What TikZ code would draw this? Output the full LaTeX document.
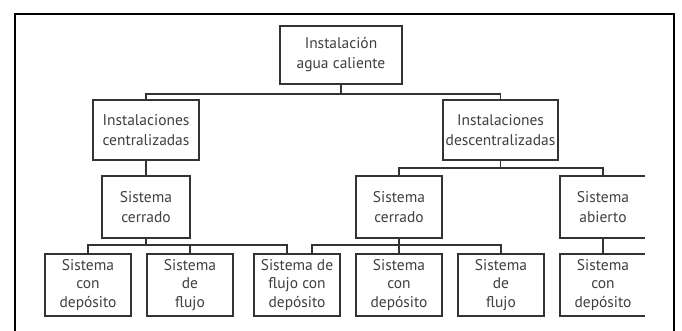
\documentclass[tikz,border=0pt]{standalone}
\usepackage{fontspec}
\setmainfont{PT Sans}
\usetikzlibrary{calc}
\definecolor{boxline}{HTML}{333333}
\definecolor{boxtext}{HTML}{404040}
\begin{document}
\begin{tikzpicture}[x=0.75pt,y=-0.75pt,
  box/.style={rectangle, draw=boxline, line width=1.4pt*0.75, text=boxtext,
    inner sep=0pt, align=center, font=\fontsize{11.6}{15}\selectfont},
  tall/.style={font=\fontsize{11.6}{13.7}\selectfont},
  openbox/.style={box, draw=none, outer sep=0pt},
  link/.style={draw=boxline, line width=1.4pt*0.75},
  frameline/.style={draw=black, line width=2.6pt*0.75}]
\useasboundingbox (0,0) rectangle (682,331);
\fill[white] (0,0) rectangle (682,331);
\draw[frameline] (15,332) -- (15,14) -- (674,14) -- (674,332);

\node[box, minimum width=122*0.75pt, minimum height=58*0.75pt] (top) at (341,55) {Instalación\\agua caliente};
\node[box, minimum width=106*0.75pt, minimum height=60*0.75pt] (l2l) at (146,130) {Instalaciones\\centralizadas};
\node[box, minimum width=115*0.75pt, minimum height=60*0.75pt] (l2r) at (500.5,130) {Instalaciones\\descentralizadas};

\node[box, minimum width=88*0.75pt, minimum height=62*0.75pt] (l3l) at (146,207) {Sistema\\cerrado};
\node[box, minimum width=86*0.75pt, minimum height=62*0.75pt] (l3r) at (399,207) {Sistema\\cerrado};
\node[openbox, minimum width=86*0.75pt, minimum height=62*0.75pt] (l3a) at (603,207) {Sistema\\abierto};

\node[box, tall, minimum width=86*0.75pt, minimum height=62*0.75pt] (a1) at (88,285) {Sistema\\con\\depósito};
\node[box, tall, minimum width=86*0.75pt, minimum height=62*0.75pt] (a2) at (190,285) {Sistema\\de\\flujo};
\node[box, tall, minimum width=86*0.75pt, minimum height=62*0.75pt] (a3) at (297,285) {Sistema de\\flujo con\\depósito};
\node[box, tall, minimum width=86*0.75pt, minimum height=62*0.75pt] (b1) at (399,285) {Sistema\\con\\depósito};
\node[box, tall, minimum width=86*0.75pt, minimum height=62*0.75pt] (b2) at (501,285) {Sistema\\de\\flujo};
\node[openbox, tall, minimum width=86*0.75pt, minimum height=62*0.75pt] (c1) at (603,285) {Sistema\\con\\depósito};

% right-hand boxes cut off at the right (three sides)
\draw[link] ([xshift=-1pt]l3a.north east) -- (l3a.north west) -- (l3a.south west) -- ([xshift=-1pt]l3a.south east);
\draw[link] ([xshift=-1pt]c1.north east) -- (c1.north west) -- (c1.south west) -- ([xshift=-1pt]c1.south east);

\coordinate (bar1) at (0,94);
\coordinate (bar2) at (0,168);
\coordinate (bar3) at (0,245);
\coordinate (a3l) at ($(a3.north)+(-10,0)$);
\coordinate (a3r) at ($(a3.north)+(15,0)$);

\draw[link] (top.south) -- (top.south |- bar1);
\draw[link] (l2l.north) -- (l2l.north |- bar1) -| (l2r.north);
\draw[link] (l2l.south) -- (l3l.north);

\draw[link] (l2r.south) -- (l2r.south |- bar2);
\draw[link] (l3r.north) -- (l3r.north |- bar2) -| (l3a.north);

\draw[link] (l3l.south) -- (l3l.south |- bar3);
\draw[link] (a1.north) -- (a1.north |- bar3) -| (a3l);
\draw[link] (a2.north) -- (a2.north |- bar3);

\draw[link] (l3r.south) -- (l3r.south |- bar3);
\draw[link] (a3r) -- (a3r |- bar3) -| (b2.north);
\draw[link] (b1.north) -- (b1.north |- bar3);

\draw[link] (l3a.south) -- (c1.north);
\end{tikzpicture}
\end{document}
